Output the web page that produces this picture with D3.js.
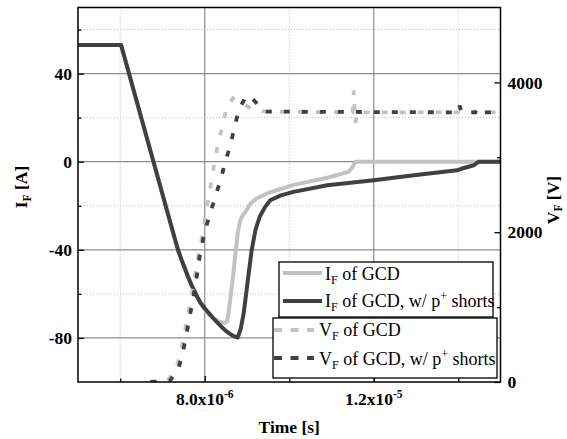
<!DOCTYPE html>
<html><head><meta charset="utf-8">
<script src="https://cdn.jsdelivr.net/npm/d3@7"></script>
<style>body{margin:0;background:#fff}svg{display:block}</style>
</head><body>
<svg id="chart" width="567" height="439"></svg>
<script>
// ---------- data (time in microseconds) ----------
const xMajorTicks = [8, 12];
const xMinorTicks = [6, 10, 14];
const xTickMantissa = ["8.0x10", "1.2x10"];
const xTickExponent = ["-6", "-5"];
const yLeftMajorTicks = [-80, -40, 0, 40];
const yLeftMinorTicks = [-60, -20, 20, 60];
const yRightMajorTicks = [0, 2000, 4000];
const yRightMinorTicks = [1000, 3000];

const ifGcdTime = [5, 6.02, 7.3, 7.37, 7.45, 7.55, 7.65, 7.75, 7.85, 7.97, 8.1, 8.2, 8.3, 8.4, 8.48, 8.53, 8.56, 8.6, 8.64, 8.68, 8.72, 8.78, 8.84, 8.9, 8.96, 9.08, 9.23, 9.5, 10.1, 10.9, 11.4, 11.5, 11.56, 15];
const ifGcdValue = [53, 53, -35.5, -40.2, -44.5, -49.5, -54.5, -58.8, -62.7, -66.5, -69.3, -71, -72.2, -72.9, -73.2, -72.5, -69, -63, -57, -50, -43, -32.6, -26.6, -24.3, -22.8, -19, -16.7, -14.2, -10.5, -7.3, -4.6, -2.4, 0, 0];

const ifShortsTime = [5, 6.02, 7.3, 7.37, 7.45, 7.5, 7.6, 7.7, 7.8, 7.9, 8.0, 8.1, 8.2, 8.3, 8.4, 8.5, 8.6, 8.7, 8.78, 8.85, 8.92, 9.04, 9.11, 9.2, 9.3, 9.43, 9.55, 9.8, 10.1, 10.9, 12.0, 12.95, 13.97, 14.09, 14.37, 14.49, 15];
const ifShortsValue = [53, 53, -35.5, -40.2, -44.5, -47, -52, -56.5, -60.5, -64, -66.5, -68.8, -71, -73, -75, -76.8, -78.2, -79.3, -79.8, -76, -69, -50.8, -40.2, -31, -25, -20.5, -17.5, -15.3, -13.7, -10.7, -8.4, -6.1, -3.9, -3.1, -1.6, 0, 0];

const vfGcdTime = [6.7, 7.12, 7.33, 7.43, 7.51, 7.59, 7.67, 7.75, 7.81, 7.89, 7.97, 8.03, 8.11, 8.17, 8.25, 8.32, 8.44, 8.52, 8.67, 8.88, 9.08, 9.45, 11.5, 11.53, 11.55, 11.57, 11.6, 15];
const vfGcdValue = [0, 20, 183, 391, 614, 864, 1095, 1350, 1562, 1806, 2029, 2274, 2510, 2741, 2977, 3218, 3445, 3676, 3788, 3729, 3654, 3609, 3600, 3890, 3620, 3460, 3600, 3600];

const vfShortsTime = [6.72, 7.18, 7.38, 7.48, 7.56, 7.64, 7.72, 7.81, 7.89, 8.01, 8.13, 8.25, 8.38, 8.48, 8.6, 8.7, 8.8, 8.98, 9.1, 9.25, 9.43, 14.0, 14.03, 14.08, 14.4, 14.45, 14.5, 15];
const vfShortsValue = [0, 20, 183, 391, 614, 864, 1095, 1406, 1718, 2029, 2252, 2474, 2706, 2928, 3151, 3387, 3622, 3823, 3800, 3708, 3610, 3600, 3690, 3600, 3600, 3650, 3600, 3600];

// ---------- layout ----------
const L = 78, R = 500.5, T = 7.5, B = 382;
const light = "#c2c2c2", dark = "#404040";
const boldFont = "bold 17.5px 'Liberation Serif', 'Times New Roman', serif";
const regFont = "18px 'Liberation Serif', 'Times New Roman', serif";

const x = d3.scaleLinear().domain([5, 15]).range([L, R]);
const yL = d3.scaleLinear().domain([-100, 70]).range([B, T]);
const yR = d3.scaleLinear().domain([0, 5000]).range([B, T]);

const svg = d3.select("#chart");
svg.append("rect").attr("width", 567).attr("height", 439).attr("fill", "#fff");

// gridlines
const grid = svg.append("g");
xMinorTicks.forEach(v => grid.append("line").attr("x1", x(v)).attr("x2", x(v)).attr("y1", T).attr("y2", B)
  .attr("stroke", "#bdbdbd").attr("stroke-width", 1).attr("stroke-dasharray", "1,2"));
yLeftMinorTicks.forEach(v => grid.append("line").attr("x1", L).attr("x2", R).attr("y1", yL(v)).attr("y2", yL(v))
  .attr("stroke", "#bdbdbd").attr("stroke-width", 1).attr("stroke-dasharray", "1,2"));
xMajorTicks.forEach(v => grid.append("line").attr("x1", x(v)).attr("x2", x(v)).attr("y1", T).attr("y2", B)
  .attr("stroke", "#8c8c8c").attr("stroke-width", 1.2));
yLeftMajorTicks.forEach(v => grid.append("line").attr("x1", L).attr("x2", R).attr("y1", yL(v)).attr("y2", yL(v))
  .attr("stroke", "#8c8c8c").attr("stroke-width", 1.2));

// clip
svg.append("clipPath").attr("id", "clip").append("rect")
  .attr("x", L).attr("y", T).attr("width", R - L).attr("height", B - T);
const plot = svg.append("g").attr("clip-path", "url(#clip)");

const lineL = d3.line().x(d => x(d[0])).y(d => yL(d[1]));
const lineR = d3.line().x(d => x(d[0])).y(d => yR(d[1]));
const zip = (a, b) => a.map((v, i) => [v, b[i]]);

plot.append("path").datum(zip(ifGcdTime, ifGcdValue)).attr("d", lineL)
  .attr("fill", "none").attr("stroke", light).attr("stroke-width", 4).attr("stroke-linejoin", "round");
plot.append("path").datum(zip(ifShortsTime, ifShortsValue)).attr("d", lineL)
  .attr("fill", "none").attr("stroke", dark).attr("stroke-width", 4).attr("stroke-linejoin", "round");
plot.append("path").datum(zip(vfGcdTime, vfGcdValue)).attr("d", lineR)
  .attr("fill", "none").attr("stroke", light).attr("stroke-width", 3.8).attr("stroke-dasharray", "6,12");
plot.append("path").datum(zip(vfShortsTime, vfShortsValue)).attr("d", lineR)
  .attr("fill", "none").attr("stroke", dark).attr("stroke-width", 3.8).attr("stroke-dasharray", "6,12");

// axes
function styleAxis(g) {
  g.select(".domain").remove();
  g.selectAll(".tick line").attr("stroke", "#000").attr("stroke-width", 1.3);
  g.selectAll("text").style("font", boldFont).attr("fill", "#000");
}
svg.append("g").attr("transform", `translate(${L},0)`)
  .call(d3.axisLeft(yL).tickValues(yLeftMajorTicks).tickSize(-6).tickPadding(6).tickFormat(d => String(d)))
  .call(styleAxis);
svg.append("g").attr("transform", `translate(${L},0)`)
  .call(d3.axisLeft(yL).tickValues(yLeftMinorTicks).tickSize(-3.5).tickFormat(""))
  .call(styleAxis);
svg.append("g").attr("transform", `translate(${R},0)`)
  .call(d3.axisRight(yR).tickValues(yRightMajorTicks).tickSize(-6).tickPadding(7).tickFormat(d => String(d)))
  .call(styleAxis);
svg.append("g").attr("transform", `translate(${R},0)`)
  .call(d3.axisRight(yR).tickValues(yRightMinorTicks).tickSize(-3.5).tickFormat(""))
  .call(styleAxis);
svg.append("g").attr("transform", `translate(0,${B})`)
  .call(d3.axisBottom(x).tickValues(xMajorTicks).tickSize(-6).tickFormat(""))
  .call(styleAxis);
svg.append("g").attr("transform", `translate(0,${B})`)
  .call(d3.axisBottom(x).tickValues(xMinorTicks).tickSize(-3.5).tickFormat(""))
  .call(styleAxis);

// x tick labels with superscript
xMajorTicks.forEach((v, i) => {
  const t = svg.append("text").attr("x", x(v)).attr("y", 405).attr("text-anchor", "middle")
    .style("font", boldFont);
  t.append("tspan").text(xTickMantissa[i]);
  t.append("tspan").attr("dy", -7).style("font-size", "11.5px").text(xTickExponent[i]);
});

// frame
svg.append("rect").attr("x", L).attr("y", T).attr("width", R - L).attr("height", B - T)
  .attr("fill", "none").attr("stroke", "#000").attr("stroke-width", 1.5);

// axis titles
svg.append("text").attr("x", (L + R) / 2).attr("y", 433).attr("text-anchor", "middle")
  .style("font", boldFont).text("Time [s]");
const yt = svg.append("text").attr("transform", "translate(26.5,187) rotate(-90)")
  .attr("text-anchor", "middle").style("font", boldFont);
yt.append("tspan").text("I");
yt.append("tspan").attr("dy", 4).style("font-size", "11.5px").text("F");
yt.append("tspan").attr("dy", -4).text(" [A]");
const yt2 = svg.append("text").attr("transform", "translate(559,200) rotate(-90)")
  .attr("text-anchor", "middle").style("font", boldFont);
yt2.append("tspan").text("V");
yt2.append("tspan").attr("dy", 3).style("font-size", "11.5px").text("F");
yt2.append("tspan").attr("dy", -3).text(" [V]");

// legend
function legendText(xp, yp, sym, shorts) {
  const t = svg.append("text").attr("x", xp).attr("y", yp).style("font", regFont).attr("fill", "#000");
  t.append("tspan").text(sym);
  t.append("tspan").attr("dy", 4).style("font-size", "12px").text("F");
  t.append("tspan").attr("dy", -4).text(shorts ? " of GCD, w/ p" : " of GCD");
  if (shorts) {
    t.append("tspan").attr("dy", -7).style("font-size", "12px").text("+");
    t.append("tspan").attr("dy", 7).text(" shorts");
  }
}
svg.append("rect").attr("x", 279).attr("y", 262).attr("width", 214).attr("height", 55)
  .attr("fill", "#fff").attr("stroke", "#000").attr("stroke-width", 1.3);
svg.append("line").attr("x1", 283).attr("x2", 322).attr("y1", 273).attr("y2", 273)
  .attr("stroke", light).attr("stroke-width", 4);
legendText(325, 279.5, "I", false);
svg.append("line").attr("x1", 283).attr("x2", 322).attr("y1", 301).attr("y2", 301)
  .attr("stroke", dark).attr("stroke-width", 4);
legendText(325, 307, "I", true);

svg.append("rect").attr("x", 273).attr("y", 318).attr("width", 224).attr("height", 60)
  .attr("fill", "#fff").attr("stroke", "#000").attr("stroke-width", 1.3);
svg.append("line").attr("x1", 274).attr("x2", 314).attr("y1", 330).attr("y2", 330)
  .attr("stroke", light).attr("stroke-width", 4).attr("stroke-dasharray", "8,8.5");
legendText(319, 336, "V", false);
svg.append("line").attr("x1", 274).attr("x2", 314).attr("y1", 358).attr("y2", 358)
  .attr("stroke", dark).attr("stroke-width", 4).attr("stroke-dasharray", "8,8.5");
legendText(319, 364.5, "V", true);
</script>
</body></html>
